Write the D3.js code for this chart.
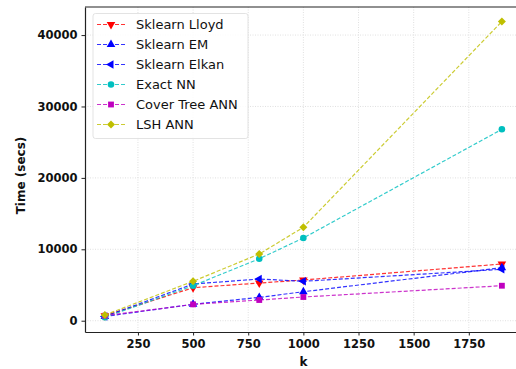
<!DOCTYPE html>
<html>
<head>
<meta charset="utf-8">
<script src="https://cdn.jsdelivr.net/npm/d3@7"></script>
<style>
  body { margin: 0; background: #fff; }
  svg { display: block; font-family: "DejaVu Sans", sans-serif; }
</style>
</head>
<body>
<svg id="chart"></svg>
<script>
const kValues = [100, 500, 800, 1000, 1900];
const lloyd = [700, 4620, 5280, 5700, 7940];
const em = [600, 2300, 3270, 4060, 7420];
const elkan = [600, 5140, 5840, 5520, 7200];
const exactNN = [480, 4900, 8680, 11580, 26800];
const coverTree = [700, 2290, 2900, 3320, 4900];
const lsh = [800, 5520, 9340, 13080, 41900];

const xTicks = [250, 500, 750, 1000, 1250, 1500, 1750];
const yTicks = [0, 10000, 20000, 30000, 40000];

const series = [
  {name: 'Sklearn Lloyd', values: lloyd, color: '#ff0000', marker: 'down'},
  {name: 'Sklearn EM', values: em, color: '#0000ff', marker: 'up'},
  {name: 'Sklearn Elkan', values: elkan, color: '#0000ff', marker: 'left'},
  {name: 'Exact NN', values: exactNN, color: '#00bfbf', marker: 'circle'},
  {name: 'Cover Tree ANN', values: coverTree, color: '#bf00bf', marker: 'square'},
  {name: 'LSH ANN', values: lsh, color: '#bfbf00', marker: 'diamond'}
];

const width = 516, height = 369;
const margin = {top: 7, right: 0, bottom: 37, left: 85};
const innerWidth = width - margin.left - margin.right;
const innerHeight = height - margin.top - margin.bottom;

const svg = d3.select('#chart').attr('width', width).attr('height', height);

// the plot runs a little past the right edge of the picture
const xScale = d3.scaleLinear().domain([10, 1964]).range([0, innerWidth]);
const yScale = d3.scaleLinear().domain([-1580, 43930]).range([innerHeight, 0]);

const g = svg.append('g').attr('transform', `translate(${margin.left},${margin.top})`);

// grid
g.selectAll('.vgrid').data(xTicks).enter().append('line')
  .attr('x1', d => xScale(d)).attr('x2', d => xScale(d))
  .attr('y1', 0).attr('y2', innerHeight)
  .attr('stroke', '#d8d8d8').attr('stroke-width', 0.8).attr('stroke-dasharray', '1,1.5');
g.selectAll('.hgrid').data(yTicks).enter().append('line')
  .attr('x1', 0).attr('x2', innerWidth)
  .attr('y1', d => yScale(d)).attr('y2', d => yScale(d))
  .attr('stroke', '#d8d8d8').attr('stroke-width', 0.8).attr('stroke-dasharray', '1,1.5');

// axes
const xAxis = g.append('g')
  .attr('transform', `translate(0,${innerHeight})`)
  .call(d3.axisBottom(xScale).tickValues(xTicks).tickSize(3.5).tickPadding(4)
    .tickFormat(d3.format('d')).tickSizeOuter(0));
const yAxis = g.append('g')
  .call(d3.axisLeft(yScale).tickValues(yTicks).tickSize(3.5).tickPadding(4)
    .tickFormat(d3.format('d')).tickSizeOuter(0));

[xAxis, yAxis].forEach(ax => {
  ax.attr('font-size', 11.5).attr('font-weight', 'bold')
    .attr('font-family', '"DejaVu Sans", sans-serif');
  ax.select('.domain').attr('stroke', '#222').attr('stroke-width', 1.2);
  ax.selectAll('.tick line').attr('stroke', '#222');
  ax.selectAll('.tick text').attr('fill', '#111');
});

// top spine
g.append('line').attr('x1', 0).attr('x2', innerWidth).attr('y1', 0).attr('y2', 0)
  .attr('stroke', '#222').attr('stroke-width', 1.2);

// labels
svg.append('text')
  .attr('x', margin.left + xScale(1000)).attr('y', 366)
  .attr('text-anchor', 'middle')
  .attr('font-size', 12).attr('font-weight', 'bold').attr('fill', '#111')
  .text('k');
svg.append('text')
  .attr('transform', `translate(25,${margin.top + innerHeight / 2 + 6}) rotate(-90)`)
  .attr('text-anchor', 'middle')
  .attr('font-size', 12).attr('font-weight', 'bold').attr('fill', '#111')
  .text('Time (secs)');

function markerPath(type) {
  if (type === 'circle') return {d: d3.symbol(d3.symbolCircle, 34)(), rot: 0};
  if (type === 'square') return {d: d3.symbol(d3.symbolSquare, 34)(), rot: 0};
  if (type === 'diamond') return {d: d3.symbol(d3.symbolSquare, 32)(), rot: 45};
  const tri = d3.symbol(d3.symbolTriangle, 32)();
  if (type === 'up') return {d: tri, rot: 0};
  if (type === 'down') return {d: tri, rot: 180};
  return {d: tri, rot: -90};
}

const line = d3.line()
  .x((d, i) => xScale(kValues[i]))
  .y(d => yScale(d));

series.forEach(s => {
  g.append('path')
    .datum(s.values)
    .attr('d', line)
    .attr('fill', 'none')
    .attr('stroke', s.color)
    .attr('stroke-opacity', 0.8)
    .attr('stroke-width', 1.2)
    .attr('stroke-dasharray', '4,2');
  const m = markerPath(s.marker);
  g.selectAll(null).data(s.values).enter().append('path')
    .attr('d', m.d)
    .attr('transform', (d, i) => `translate(${xScale(kValues[i])},${yScale(d)}) rotate(${m.rot})`)
    .attr('fill', s.color);
});

// legend
const legend = svg.append('g').attr('transform', 'translate(93,13.5)');
legend.append('rect')
  .attr('width', 155).attr('height', 125).attr('rx', 2.5)
  .attr('fill', 'rgba(255,255,255,0.85)').attr('stroke', '#dcdcdc').attr('stroke-width', 0.8);
series.forEach((s, i) => {
  const row = legend.append('g').attr('transform', `translate(0,${11 + i * 20})`);
  row.append('line').attr('x1', 4).attr('x2', 32).attr('y1', 0).attr('y2', 0)
    .attr('stroke', s.color).attr('stroke-opacity', 0.8).attr('stroke-width', 1.2)
    .attr('stroke-dasharray', '4,2');
  const m = markerPath(s.marker);
  row.append('path').attr('d', m.d)
    .attr('transform', `translate(18,0) rotate(${m.rot})`).attr('fill', s.color);
  row.append('text').attr('x', 43).attr('y', 4.5)
    .attr('font-size', 13).attr('fill', '#111').text(s.name);
});
</script>
</body>
</html>
